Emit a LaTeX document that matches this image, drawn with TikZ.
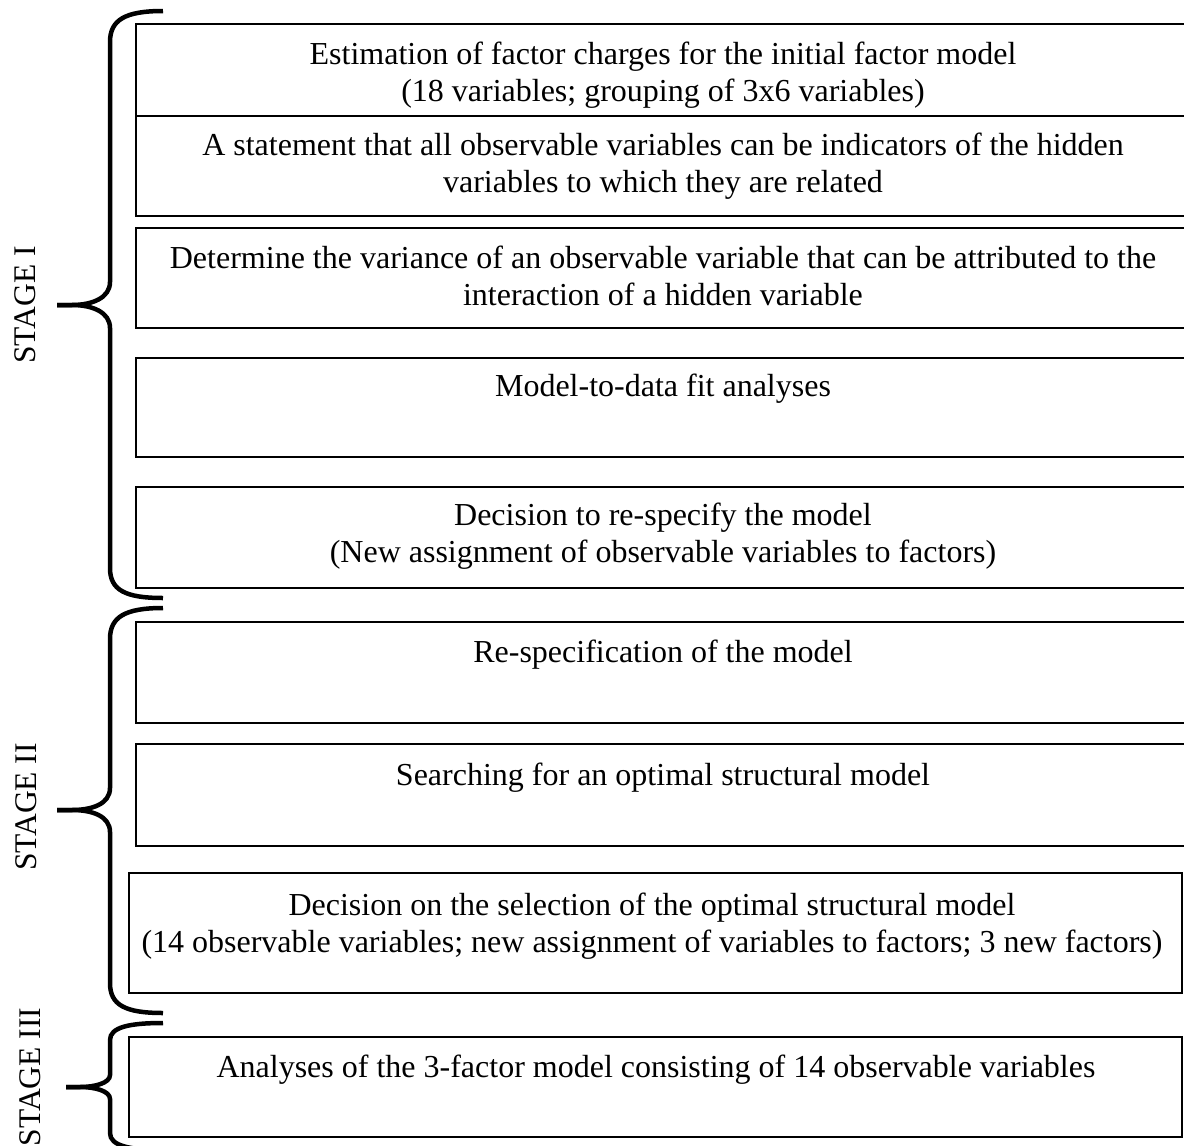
\documentclass[tikz,border=0pt]{standalone}
\usepackage{fontspec}
\setmainfont{Liberation Serif}
\begin{document}
\begin{tikzpicture}[x=1pt,y=-1pt,
  box/.style={draw, line width=1.8pt, anchor=north west, inner sep=0pt, outer sep=0pt},
  brace/.style={line width=4.5pt, line cap=butt},
  txt/.style={inner sep=0pt, anchor=base, font=\fontsize{32}{37.5}\selectfont},
  stg/.style={inner sep=0pt, rotate=90, font=\fontsize{31.5}{37}\selectfont}]
\useasboundingbox (0,0) rectangle (1184,1146);
\clip (0,0) rectangle (1184,1146);
% boxes
\node[box, minimum width=1059pt, minimum height=92pt]  (b1) at (136,24) {};
\node[box, minimum width=1059pt, minimum height=100pt] (b2) at (136,116) {};
\node[box, minimum width=1059pt, minimum height=100pt] (b3) at (136,228) {};
\node[box, minimum width=1059pt, minimum height=99pt]  (b4) at (136,358) {};
\node[box, minimum width=1059pt, minimum height=101pt] (b5) at (136,487) {};
\node[box, minimum width=1059pt, minimum height=101pt] (b6) at (136,622) {};
\node[box, minimum width=1059pt, minimum height=102pt] (b7) at (136,744) {};
\node[box, minimum width=1053pt, minimum height=120pt] (b8) at (129,873) {};
\node[box, minimum width=1053pt, minimum height=100pt] (b9) at (129,1037) {};
% texts
\node[txt] (t1) at (663,64) {\begin{tabular}[t]{@{}c@{}}Estimation of factor charges for the initial factor model\\(18 variables; grouping of 3x6 variables)\end{tabular}};
\node[txt] (t2) at (663,155) {\begin{tabular}[t]{@{}c@{}}A statement that all observable variables can be indicators of the hidden\\variables to which they are related\end{tabular}};
\node[txt] (t3) at (663,268) {\begin{tabular}[t]{@{}c@{}}Determine the variance of an observable variable that can be attributed to the\\interaction of a hidden variable\end{tabular}};
\node[txt] (t4) at (663,396) {Model-to-data fit analyses};
\node[txt] (t5) at (663,525) {\begin{tabular}[t]{@{}c@{}}Decision to re-specify the model\\(New assignment of observable variables to factors)\end{tabular}};
\node[txt] (t6) at (663,662) {Re-specification of the model};
\node[txt] (t7) at (663,785) {Searching for an optimal structural model};
\node[txt] (t8) at (652,915) {\begin{tabular}[t]{@{}c@{}}Decision on the selection of the optimal structural model\\(14 observable variables; new assignment of variables to factors; 3 new factors)\end{tabular}};
\node[txt] (t9) at (656,1077) {Analyses of the 3-factor model consisting of 14 observable variables};
% stage labels
\node[stg] (s1) at (25,305) {STAGE I};
\node[stg] (s2) at (26,807) {STAGE II};
\node[stg] (s3) at (30,1077) {STAGE III};
% braces
\draw[brace] (163,11) .. controls (125,11) and (110,20) .. (110,42) -- (110,282) .. controls (110,298) and (92,305) .. (72,305) -- (57,305);
\draw[brace] (57,305) -- (72,305) .. controls (92,305) and (110,312) .. (110,328) -- (110,568) .. controls (110,590) and (125,598) .. (163,598);
\draw[brace] (163,608) .. controls (125,608) and (110,617) .. (110,639) -- (110,788) .. controls (110,804) and (92,810) .. (72,810) -- (57,810);
\draw[brace] (57,810) -- (72,810) .. controls (92,810) and (110,816) .. (110,832) -- (110,983) .. controls (110,1005) and (125,1013) .. (163,1013);
\draw[brace] (163,1023) .. controls (130,1023) and (110,1027) .. (110,1040) -- (110,1075) .. controls (110,1083) and (95,1087) .. (80,1087) -- (66,1087);
\draw[brace] (66,1087) -- (80,1087) .. controls (95,1087) and (110,1091) .. (110,1099) -- (110,1133) .. controls (110,1146) and (130,1150) .. (163,1150);
\end{tikzpicture}
\end{document}
